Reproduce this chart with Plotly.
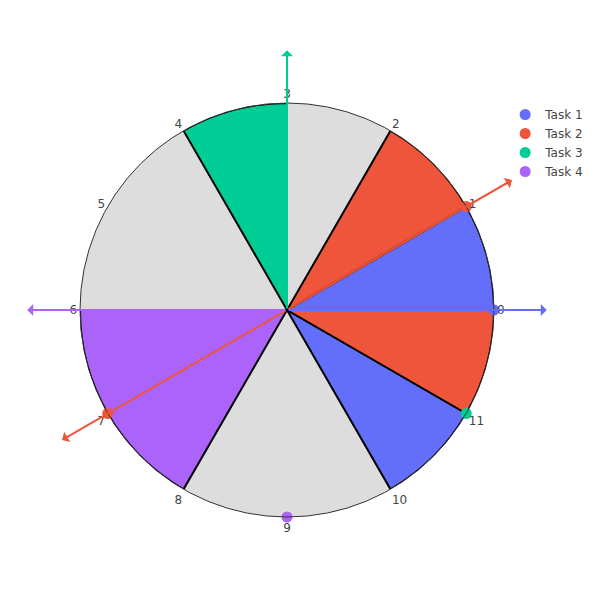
import math
import plotly.graph_objects as go

# ---- data (clock slots, 12 slots of 30 degrees each) ----
tasks = ["Task 1", "Task 2", "Task 3", "Task 4"]
task_colors = ["#636EFA", "#EF553B", "#00CC96", "#AB63FA"]

# occupied sectors: (task, start slot, end slot)
sector_task = ["Task 1", "Task 2", "Task 3", "Task 4", "Task 1", "Task 2"]
sector_start = [0, 1, 3, 6, 10, 11]
sector_end = [1, 2, 4, 8, 11, 12]

# point markers on the rim for each task (slot positions)
marker_slots = {"Task 1": [0], "Task 2": [1, 7], "Task 3": [11], "Task 4": [9]}

# arrows from the centre for each task (slot positions)
arrow_slots = {"Task 1": [0], "Task 2": [1, 7], "Task 3": [3], "Task 4": [6]}

tick_slots = list(range(12))
tick_labels = [str(i) for i in tick_slots]

DEG = 30  # degrees per slot
color_of = dict(zip(tasks, task_colors))
FONT = "DejaVu Sans"

fig = go.Figure()

for t, s, e in zip(sector_task, sector_start, sector_end):
    fig.add_trace(go.Barpolar(
        r=[1], theta=[(s + e) / 2 * DEG], width=[(e - s) * DEG],
        marker=dict(color=color_of[t], line=dict(color="black", width=2)),
        showlegend=False, hoverinfo="skip",
    ))

for t in tasks:
    fig.add_trace(go.Scatterpolar(
        r=[1] * len(marker_slots[t]),
        theta=[s * DEG for s in marker_slots[t]],
        mode="markers", name=t,
        marker=dict(color=color_of[t], size=11),
        cliponaxis=False,
    ))

# geometry of the plot area (margins fixed)
W = H = 600
ml, mr, mt, mb = 80, 106, 100, 80
pw, ph = W - ml - mr, H - mt - mb
cx, cy = ml + pw / 2, mt + ph / 2
R = min(pw, ph) / 2
L = 1.255 * R

for t in tasks:
    for s in arrow_slots[t]:
        a = math.radians(s * DEG)
        hx = cx + L * math.cos(a)
        hy = cy - L * math.sin(a)
        fig.add_annotation(
            x=(hx - ml) / pw, y=(H - mb - hy) / ph, xref="paper", yref="paper",
            ax=-L * math.cos(a), ay=L * math.sin(a),
            text="", showarrow=True, arrowhead=1, arrowwidth=2, arrowsize=1,
            arrowcolor=color_of[t],
        )

fig.update_layout(
    width=W, height=H,
    margin=dict(l=ml, r=mr, t=mt, b=mb, autoexpand=False),
    paper_bgcolor="white",
    font=dict(family=FONT, size=12, color="#444444"),
    polar=dict(
        bgcolor="#dddddd",
        radialaxis=dict(visible=False, range=[0, 1]),
        angularaxis=dict(
            rotation=0, direction="counterclockwise",
            tickmode="array", tickvals=[s * DEG for s in tick_slots], ticktext=tick_labels,
            showgrid=False, showline=True, linecolor="#333333", linewidth=1,
            ticks="", tickfont=dict(family=FONT, size=12, color="#444444"),
        ),
    ),
    legend=dict(x=1.027, y=1, font=dict(family=FONT, size=12, color="#444444")),
)

fig.write_html("out.html")
